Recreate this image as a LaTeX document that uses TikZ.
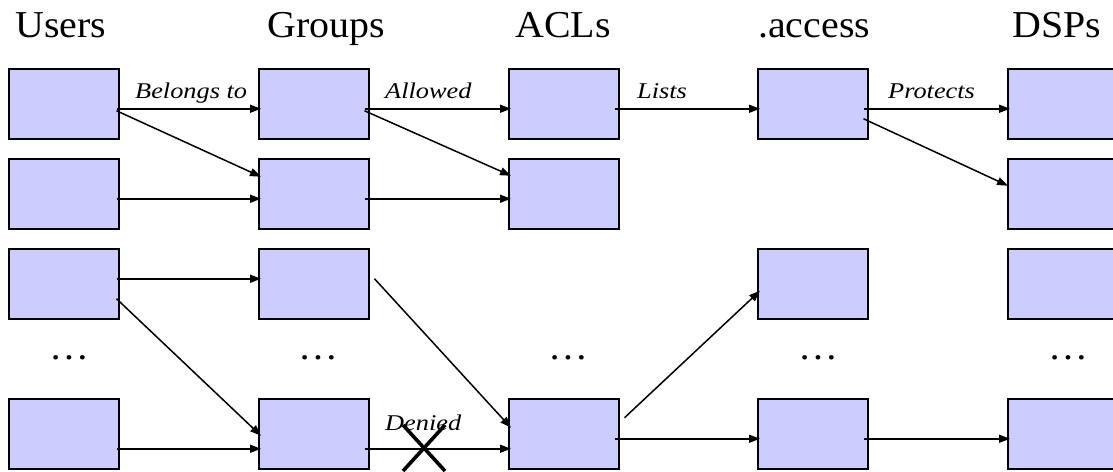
\documentclass[tikz,border=0pt]{standalone}
\usepackage{fontspec}
\setmainfont{Liberation Serif}
\newfontfamily\titlefont[FakeStretch=1.05]{Liberation Serif}
\newfontfamily\lblfont[FakeStretch=1.17]{Liberation Serif}
\usetikzlibrary{arrows.meta,calc}
\definecolor{boxfill}{HTML}{CCCCFF}
\tikzset{
  stbox/.style={draw=black, line width=1.5pt, fill=boxfill, minimum width=110pt,
    minimum height=70pt, inner sep=0pt, anchor=north west},
  ttl/.style={anchor=base west, inner sep=0pt, font=\titlefont\fontsize{38}{40}\selectfont},
  dts/.style={anchor=base, inner sep=0pt, font=\titlefont\fontsize{38}{40}\selectfont},
  lbl/.style={anchor=base west, inner sep=0pt, font=\lblfont\itshape\fontsize{22.5}{24}\selectfont},
  arr/.style={line width=1.5pt, -{Triangle[length=11pt,width=8pt]}},
  xmark/.style={line width=3.6pt}
}
\begin{document}
\begin{tikzpicture}[x=1pt,y=-1pt]
\useasboundingbox (0,0) rectangle (1113,471);
% titles
\node[ttl] (tu) at (15,37) {Users};
\node[ttl] (tg) at (267,37) {Groups};
\node[ttl] (ta) at (515,37) {ACLs};
\node[ttl] (tx) at (758,37) {.access};
\node[ttl] (td) at (1012,37) {DSPs};
% boxes
\node[stbox] (u1) at (8,68) {};
\node[stbox] (u2) at (8,158) {};
\node[stbox] (u3) at (8,248) {};
\node[stbox] (u5) at (8,398) {};
\node[stbox] (g1) at (258,68) {};
\node[stbox] (g2) at (258,158) {};
\node[stbox] (g3) at (258,248) {};
\node[stbox] (g5) at (258,398) {};
\node[stbox] (a1) at (508,68) {};
\node[stbox] (a2) at (508,158) {};
\node[stbox] (a5) at (508,398) {};
\node[stbox] (x1) at (757,68) {};
\node[stbox] (x3) at (757,248) {};
\node[stbox] (x5) at (757,398) {};
\node[stbox] (d1) at (1007,68) {};
\node[stbox] (d2) at (1007,158) {};
\node[stbox] (d3) at (1007,248) {};
\node[stbox] (d5) at (1007,398) {};
% dots
\node[dts] (du) at (69,359) {…};
\node[dts] (dg) at (318,359) {…};
\node[dts] (da) at (568,359) {…};
\node[dts] (dx) at (818,359) {…};
\node[dts] (dd) at (1068,359) {…};
% arrows
\draw[arr] ([shift={(-3,5)}]u1.east) -- ([shift={(3,5)}]g1.west);
\draw[arr] ([shift={(-3,7)}]u1.east) -- ([shift={(3,-17)}]g2.west);
\draw[arr] ([shift={(-3,5)}]u2.east) -- ([shift={(3,5)}]g2.west);
\draw[arr] ([shift={(-5,5)}]g1.east) -- ([shift={(3,5)}]a1.west);
\draw[arr] ([shift={(-5,7)}]g1.east) -- ([shift={(3,-18)}]a2.west);
\draw[arr] ([shift={(-5,5)}]g2.east) -- ([shift={(3,5)}]a2.west);
\draw[arr] ([shift={(-5,5)}]a1.east) -- ([shift={(3,5)}]x1.west);
\draw[arr] ([shift={(-5,5)}]x1.east) -- ([shift={(3,5)}]d1.west);
\draw[arr] ([shift={(-5,15)}]x1.east) -- ([shift={(1,-8)}]d2.west);
\draw[arr] ([shift={(-3,-5)}]u3.east) -- ([shift={(3,-5)}]g3.west);
\draw[arr] ([shift={(-3,15)}]u3.east) -- ([shift={(3,2)}]g5.west);
\draw[arr] ([shift={(-3,15)}]u5.east) -- ([shift={(3,15)}]g5.west);
\draw[arr] ([shift={(5,-5)}]g3.east) -- ([shift={(3,-6)}]a5.west);
\draw[arr] ([shift={(-5,15)}]g5.east) -- ([shift={(3,15)}]a5.west);
\draw[arr] ([shift={(5,-16)}]a5.east) -- ([shift={(3,7)}]x3.west);
\draw[arr] ([shift={(-5,5)}]a5.east) -- ([shift={(3,5)}]x5.west);
\draw[arr] ([shift={(-5,5)}]x5.east) -- ([shift={(3,5)}]d5.west);
% labels
\node[lbl] (lb) at (135,98) {Belongs to};
\node[lbl] (la) at (385,98) {Allowed};
\node[lbl] (ll) at (637,98) {Lists};
\node[lbl] (lp) at (888,98) {Protects};
\node[lbl] (ld) at (385,430) {Denied};
% cross
\coordinate (xm) at (424,448);
\draw[xmark] ($(xm)+(-21,-23)$) -- ($(xm)+(21,23)$);
\draw[xmark] ($(xm)+(-21,23)$) -- ($(xm)+(21,-23)$);
\end{tikzpicture}
\end{document}
